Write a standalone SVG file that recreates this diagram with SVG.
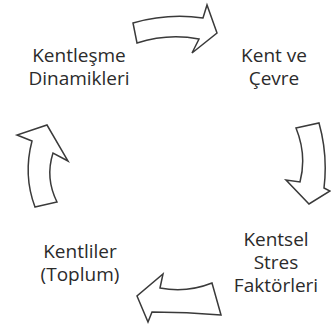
<svg xmlns="http://www.w3.org/2000/svg" width="331" height="324" viewBox="0 0 331 324">
<style>
.lbl{font-family:"Open Sans","Liberation Sans",sans-serif;font-size:19px;fill:#2b2b2b;text-anchor:middle}
.arr{fill:#fff;stroke:#3a3a3a;stroke-width:1.5;stroke-linejoin:miter}
</style>
<rect width="331" height="324" fill="#fff"/>
<g id="connectors">
<path id="arrow-top" class="arr" d="M133,23 Q168,13 203,18 L207,5 L217,33 L192,53 L199,39 Q168,33 137,43 Z"/>
<path id="arrow-right" class="arr" d="M296,128 L319,123 Q328,155 324,188 L330,191 L309,204 L286,180 L300,182 Q307,155 296,128 Z"/>
<path id="arrow-bottom" class="arr" d="M212,283 Q187,293 160,288 L163,274 L137,296 L148,322 L152,312 Q187,312 221,315 Z"/>
<path id="arrow-left" class="arr" d="M35,207 L57,202 Q45,178 53,153 L68,161 L47,125 L17,135 L32,141 Q23,175 35,207 Z"/>
</g>
<g id="node-kentlesme"><text class="lbl" x="79" y="62">Kentleşme</text><text class="lbl" x="79" y="85">Dinamikleri</text></g>
<g id="node-kent-cevre"><text class="lbl" x="274" y="62">Kent ve</text><text class="lbl" x="274" y="85">Çevre</text></g>
<g id="node-stres"><text class="lbl" x="276" y="246">Kentsel</text><text class="lbl" x="276" y="269">Stres</text><text class="lbl" x="276" y="292">Faktörleri</text></g>
<g id="node-kentliler"><text class="lbl" x="80" y="258">Kentliler</text><text class="lbl" x="80" y="281">(Toplum)</text></g>
</svg>
